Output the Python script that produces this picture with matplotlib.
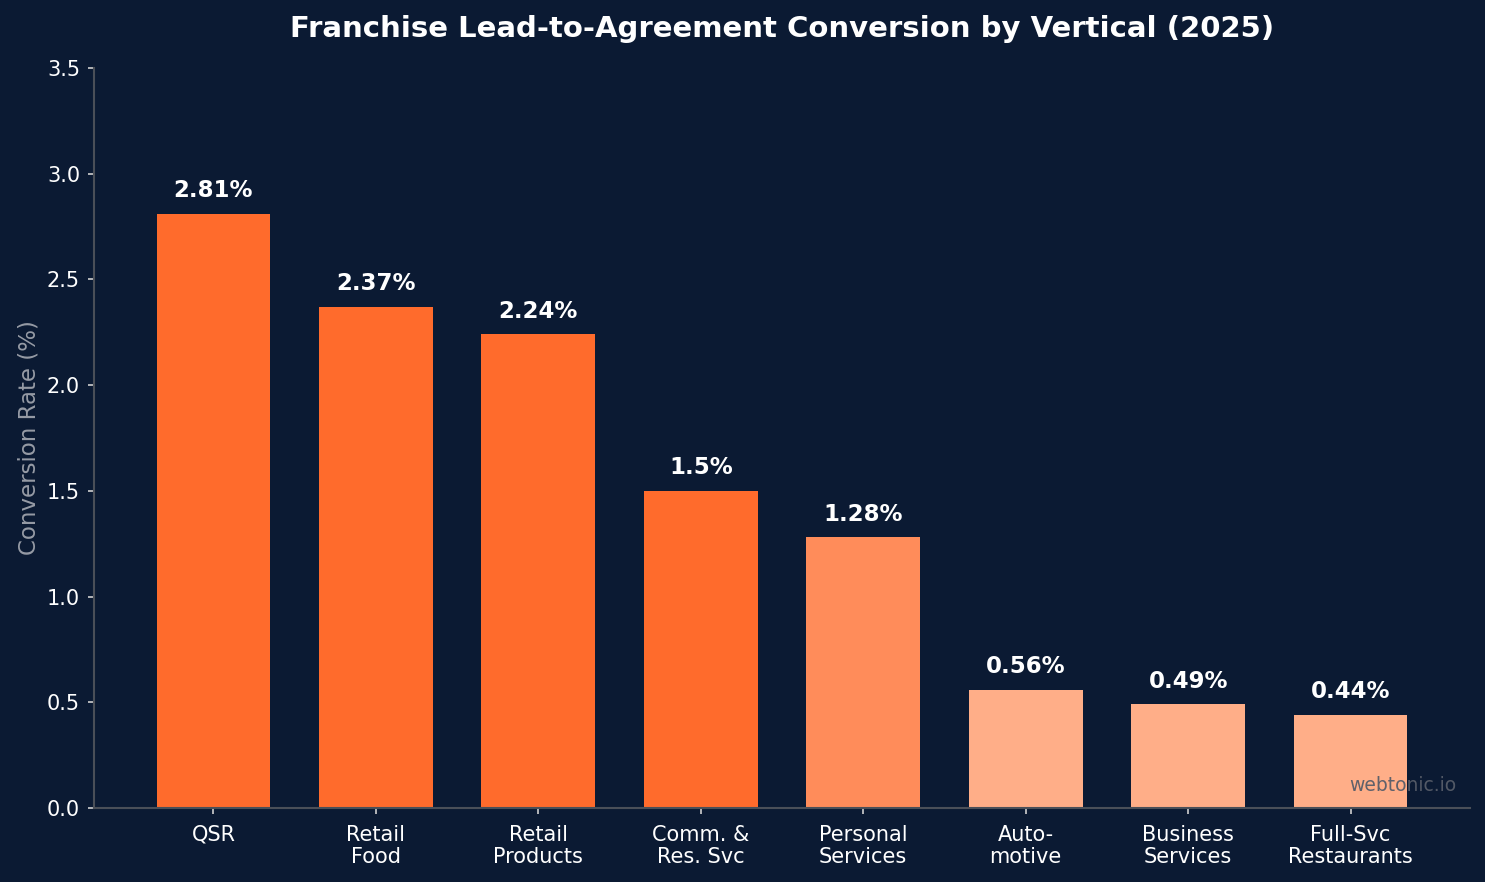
import matplotlib
matplotlib.use("Agg")
import matplotlib.pyplot as plt

plt.rcParams["font.family"] = ["DejaVu Sans"]

categories = ["QSR", "Retail\nFood", "Retail\nProducts", "Comm. &\nRes. Svc",
              "Personal\nServices", "Auto-\nmotive", "Business\nServices", "Full-Svc\nRestaurants"]
values = [2.81, 2.37, 2.24, 1.5, 1.28, 0.56, 0.49, 0.44]
labels = ["2.81%", "2.37%", "2.24%", "1.5%", "1.28%", "0.56%", "0.49%", "0.44%"]
colors = ["#ff6b2c"] * 4 + ["#ff8c5a"] + ["#ffae88"] * 3

BG = "#0b1a33"
fig = plt.figure(figsize=(14.85, 8.82), dpi=100)
fig.patch.set_facecolor(BG)
ax = fig.add_axes([94/1485, 1 - 808/882, (1470-94)/1485, (808-68)/882])
ax.set_facecolor(BG)

x = range(len(categories))
bars = ax.bar(x, values, width=0.7, color=colors)
for b, lab in zip(bars, labels):
    ax.text(b.get_x() + b.get_width()/2, b.get_height() + 0.055, lab,
            ha="center", va="bottom", color="white", fontsize=16.5, fontweight="bold")

ax.set_ylim(0, 3.5)
ax.set_xticks(list(x))
ax.set_xticklabels(categories, fontsize=15, color="white", linespacing=1.15)
ax.tick_params(axis="both", colors="#d0d0d0", length=4, width=1.2, labelsize=15, pad=6)
ax.tick_params(axis="x", labelcolor="white", pad=8)
ax.tick_params(axis="y", labelcolor="white")
ax.set_yticks([0, 0.5, 1.0, 1.5, 2.0, 2.5, 3.0, 3.5])
ax.set_ylabel("Conversion Rate (%)", fontsize=16.5, color="#969ba5", labelpad=5)
for s in ["top", "right"]:
    ax.spines[s].set_visible(False)
for s in ["left", "bottom"]:
    ax.spines[s].set_color("#4a4f58")
    ax.spines[s].set_linewidth(1.5)

ax.set_title("Franchise Lead-to-Agreement Conversion by Vertical (2025)",
             color="white", fontsize=21, fontweight="bold", pad=22)
ax.text(0.99, 0.018, "webtonic.io", transform=ax.transAxes, ha="right", va="bottom",
        color="#575d69", fontsize=13.5, alpha=0.95)

fig.savefig("out.png", dpi=100, facecolor=BG)
